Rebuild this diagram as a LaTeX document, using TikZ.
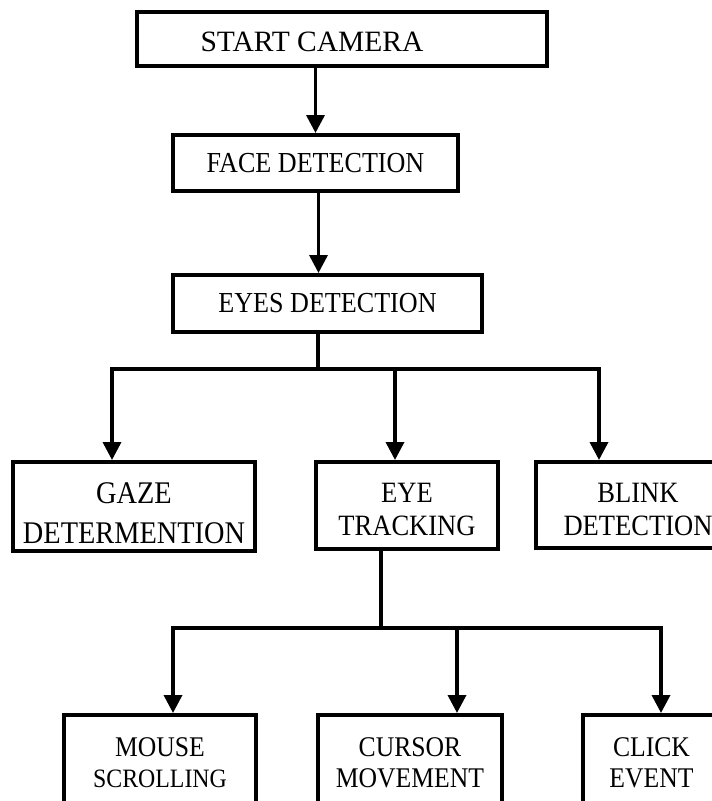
\documentclass[tikz,border=0pt]{standalone}
\usepackage{fontspec}
\setmainfont{Liberation Serif}
\newfontfamily\condfont[FakeStretch=0.9]{Liberation Serif}
\usetikzlibrary{arrows.meta,calc}
\begin{document}
\begin{tikzpicture}[x=1pt,y=-1pt,
  box/.style={draw,line width=4pt,rectangle,inner sep=0pt,align=center,
    font=\condfont\fontsize{29.5}{33}\selectfont},
  txt/.style={inner sep=0pt,align=center},
  ln/.style={line width=3.5pt},
  arr/.style={line width=3.5pt,line join=miter,-{Triangle[length=18pt,width=18pt]}}]
\useasboundingbox (0,0) rectangle (712,801);
\begin{scope}
\clip (0,0) rectangle (712,801);
% boxes
\node[box,minimum width=410pt,minimum height=54pt] (start) at (342,39) {};
\node[txt,font=\fontsize{29.5}{34}\selectfont] (starttext) at ([xshift=-30pt,yshift=-3pt]start.center) {START CAMERA};
\node[box,minimum width=285pt,minimum height=56pt,font=\condfont\fontsize{29}{33}\selectfont] (face) at (315.5,163) {FACE DETECTION};
\node[box,minimum width=309pt,minimum height=57pt,font=\condfont\fontsize{29}{33}\selectfont] (eyes) at (327.5,303.5) {EYES DETECTION};
\node[box,minimum width=242pt,minimum height=89pt,font=\condfont\fontsize{31.5}{40}\selectfont] (gaze) at (134,506.5) {\rule{0pt}{34pt}GAZE\\DETERMENTION};
\node[box,minimum width=182pt,minimum height=87pt] (track) at (407,505.5) {\rule{0pt}{28pt}EYE\\TRACKING};
\node[box,minimum width=204pt,minimum height=86pt] (blink) at (638,505) {\rule{0pt}{28pt}BLINK\\DETECTION};
\node[box,minimum width=192pt,minimum height=95pt,font=\condfont\fontsize{28.5}{31}\selectfont] (mouse) at (160,762.5) {MOUSE\\{\fontsize{26.5}{31}\selectfont SCROLLING}};
\node[box,minimum width=184pt,minimum height=95pt,font=\condfont\fontsize{28.5}{31}\selectfont] (cursor) at (410,762.5) {CURSOR\\MOVEMENT};
\node[box,minimum width=137pt,minimum height=95pt,font=\condfont\fontsize{28.5}{31}\selectfont] (click) at (651.5,762.5) {CLICK\\EVENT};
% connectors
\draw[arr] (start.south -| face.north) -- (face.north);
\draw[arr] ([xshift=3pt]face.south) -- ([xshift=3pt]face.south |- eyes.north);
\draw[ln] ([xshift=-9.5pt]eyes.south) -- ++(0,35) coordinate (j1);
\draw[arr] (j1) -| ([xshift=-22pt]gaze.north);
\draw[arr] (j1) -| ([xshift=-12pt]track.north);
\draw[arr] (j1) -| ([xshift=-39pt]blink.north);
\draw[ln] ([xshift=-26pt]track.south) -- ++(0,77) coordinate (j2);
\draw[arr] (j2) -| ([xshift=13pt]mouse.north);
\draw[arr] (j2) -| ([xshift=47pt]cursor.north);
\draw[arr] (j2) -| ([xshift=9.5pt]click.north);
\end{scope}
\end{tikzpicture}
\end{document}
